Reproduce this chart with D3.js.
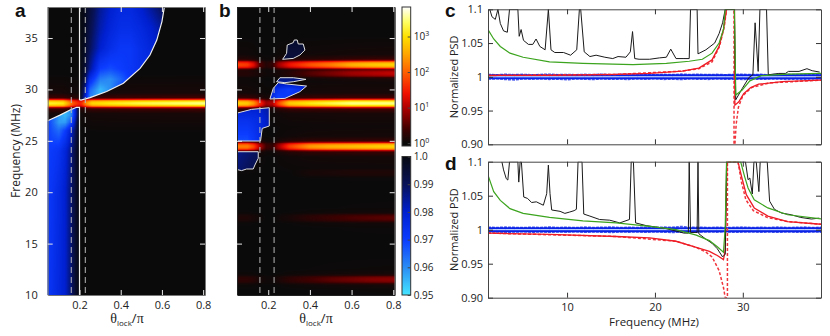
<!DOCTYPE html>
<html>
<head>
<meta charset="utf-8">
<style>
body { margin: 0; background: #fff; }
svg { display: block; }
text { font-family: "Open Sans", sans-serif; fill: #222; }
.panel { font-family: "Liberation Sans", sans-serif; font-weight: bold; font-size: 19px; fill: #111; }
</style>
</head>
<body>
<svg id="chart" width="830" height="336"></svg>
<script src="https://cdn.jsdelivr.net/npm/d3@7"></script>
<script>
// colour maps, log10(PSD) for the hot one and PSD for the blue one
const hotStops = [0, 0.4, 1, 1.4, 2, 2.5, 3, 3.4, 3.83];
const hotColors = ["#0a0a0a", "#3f0000", "#b00000", "#f01000", "#ff6000", "#ffa500", "#ffe000", "#ffff60", "#ffffff"];
const blueStops = [0.95, 0.96, 0.97, 0.98, 0.99, 1.0];
const blueColors = ["#45e5ff", "#2a8cf5", "#0c3cff", "#0020d0", "#081258", "#070910"];

// line shape of a resonance: frequency offset (MHz) -> fraction of the peak
const bandOffset = [0, 0.1, 0.2, 0.3, 0.4, 0.55, 1, 3];
const bandShape = [1, 0.97, 0.88, 0.7, 0.35, 0.12, 0.03, 0];

// panel a, resonances
const aThetas = [0.05, 0.12, 0.15, 0.17, 0.19, 0.2, 0.21, 0.23, 0.26, 0.35, 0.5, 0.8];
const aBandFreqs = [28.65];
const aBandPeaks = [[3.2, 3.1, 2.4, 1.9, 1.6, 1.5, 1.6, 2.3, 2.9, 3.1, 3.3, 3.5]];

// panel a, regions below 1
const aUpperTheta = [0.2, 0.207, 0.251, 0.332, 0.413, 0.494, 0.542, 0.575, 0.6, 0.612, 0.615, 0.2];
const aUpperFreq = [29, 28.97, 29.2, 29.8, 30.6, 32.05, 33.35, 34.8, 36.6, 38.04, 38.3, 38.3];
const aLowerTheta = [0.04, 0.046, 0.105, 0.154, 0.186, 0.2, 0.2, 0.04];
const aLowerFreq = [26.9, 26.95, 27.5, 28, 28.26, 28.26, 9.8, 9.8];

const aUpperGridTheta = [0.2, 0.22, 0.25, 0.3, 0.35, 0.4, 0.45, 0.5, 0.55, 0.6, 0.62];
const aUpperGridFreq = [29, 30, 31, 32, 34, 36, 38];
const aUpperGrid = [
  [1, 0.985, 0.96, 0.955, 0.965, 0.97, 0.97, 0.97, 0.97, 0.97, 0.97],
  [1, 0.99, 0.965, 0.955, 0.96, 0.97, 0.975, 0.975, 0.975, 0.975, 0.975],
  [1, 0.995, 0.975, 0.962, 0.96, 0.965, 0.972, 0.975, 0.975, 0.975, 0.975],
  [1, 0.997, 0.985, 0.97, 0.968, 0.97, 0.972, 0.975, 0.975, 0.975, 0.975],
  [1, 0.998, 0.99, 0.98, 0.975, 0.972, 0.972, 0.975, 0.978, 0.98, 0.98],
  [1, 0.999, 0.992, 0.983, 0.978, 0.975, 0.975, 0.977, 0.98, 0.985, 0.985],
  [1, 0.999, 0.994, 0.985, 0.98, 0.977, 0.977, 0.98, 0.985, 0.99, 0.992]
];
const aLowerGridTheta = [0.046, 0.07, 0.1, 0.13, 0.16, 0.18, 0.19, 0.2];
const aLowerGridFreq = [10, 20, 24, 26, 26.8, 27.5, 28.3];
const aLowerGrid = [
  [0.972, 0.974, 0.977, 0.98, 0.988, 0.996, 0.998, 1],
  [0.971, 0.973, 0.976, 0.98, 0.988, 0.995, 0.998, 1],
  [0.97, 0.971, 0.973, 0.978, 0.986, 0.994, 0.998, 1],
  [0.97, 0.967, 0.964, 0.97, 0.98, 0.99, 0.996, 1],
  [0.97, 0.965, 0.958, 0.958, 0.968, 0.985, 0.995, 1],
  [0.97, 0.965, 0.958, 0.955, 0.96, 0.98, 0.99, 1],
  [0.97, 0.965, 0.958, 0.955, 0.96, 0.98, 0.99, 1]
];

// panel b, resonances
const bThetas = [0.05, 0.1, 0.13, 0.16, 0.19, 0.22, 0.25, 0.3, 0.4, 0.5, 0.6, 0.7, 0.8];
const bBandFreqs = [32.4, 31.57, 28.65, 24.45, 21.9, 17.5, 11.5];
const bBandPeaks = [
  [1.8, 1.7, 1.3, 0.5, 0.2, 0.3, 0.9, 1.4, 1.9, 2.2, 2.6, 2.8, 2.9],
  [0.2, 0.2, 0.15, 0.1, 0.05, 0.05, 0.1, 0.2, 0.5, 0.7, 0.9, 1, 1.1],
  [2.9, 2.8, 2.4, 1.6, 0.9, 1, 1.8, 2.8, 3.1, 3.3, 3.5, 3.5, 3.5],
  [2.2, 2.2, 1.8, 1, 0.4, 0.3, 0.9, 1.7, 2.4, 2.6, 2.7, 2.8, 2.9],
  [0, 0, 0, 0, 0, 0, 0, 0, 0.1, 0.12, 0.15, 0.15, 0.15],
  [0.15, 0.15, 0.1, 0.05, 0, 0, 0.05, 0.1, 0.25, 0.35, 0.45, 0.5, 0.55],
  [0.25, 0.25, 0.2, 0.1, 0.05, 0.05, 0.12, 0.25, 0.4, 0.55, 0.65, 0.75, 0.8]
];

// panel b, contours of the regions below 1
const bRegionThetas = [
  [0.269, 0.288, 0.291, 0.32, 0.325, 0.339, 0.344, 0.368, 0.376, 0.352, 0.32],
  [0.24, 0.256, 0.32, 0.381, 0.32, 0.28],
  [0.208, 0.224, 0.248, 0.288, 0.384, 0.352, 0.28],
  [0.045, 0.12, 0.205, 0.205, 0.171, 0.163, 0.045],
  [0.045, 0.152, 0.152, 0.136, 0.128, 0.096, 0.072, 0.045]
];
const bRegionFreqs = [
  [32.93, 33.51, 34.32, 34.55, 34.81, 34.81, 34.42, 34.42, 33.83, 33.35, 33.02],
  [30.75, 31.14, 31.14, 30.98, 30.75, 30.66],
  [29.07, 30.1, 30.66, 30.53, 30.33, 29.78, 29.13],
  [27.67, 28.06, 28.22, 26.44, 26.21, 24.98, 24.98],
  [23.94, 23.94, 23.3, 22.65, 22.26, 22.26, 22.1, 22.23]
];
const bGridTheta = [0.05, 0.1, 0.15, 0.2, 0.25, 0.3, 0.35, 0.4];
const bGridFreq = [22, 24, 25, 27, 28.2, 29, 30, 30.7, 31.2, 33, 35];
const bGrid = [
  [0.988, 0.99, 0.992, 0.995, 1, 1, 1, 1],
  [0.986, 0.988, 0.99, 0.995, 1, 1, 1, 1],
  [0.968, 0.968, 0.974, 0.982, 1, 1, 1, 1],
  [0.974, 0.974, 0.976, 0.982, 1, 1, 1, 1],
  [0.98, 0.98, 0.98, 0.984, 0.98, 0.98, 0.98, 0.98],
  [0.98, 0.98, 0.98, 0.98, 0.968, 0.972, 0.976, 0.98],
  [0.98, 0.98, 0.98, 0.98, 0.974, 0.97, 0.974, 0.98],
  [0.98, 0.98, 0.98, 0.98, 0.985, 0.985, 0.985, 0.985],
  [0.99, 0.99, 0.99, 0.99, 0.988, 0.988, 0.988, 0.988],
  [0.996, 0.996, 0.996, 0.996, 0.994, 0.994, 0.994, 0.994],
  [0.996, 0.996, 0.996, 0.996, 0.996, 0.996, 0.996, 0.996]
];

const lockThetas = [0.16, 0.228];

// panel c traces
const cBlackFreq = [1.2, 1.45, 1.83, 2.13, 2.4, 2.77, 3.2, 3.45, 4.4, 4.55, 4.77, 5.04, 5.6, 6.1, 6.47, 6.9, 7.5, 7.87, 8.17, 8.6, 9.6, 10.4, 11.1, 11.4, 11.55, 11.95, 12.6, 13.3, 14.3, 15.2, 15.8, 16.7, 17.2, 17.45, 17.7, 18.2, 19.4, 20.5, 21.3, 21.8, 22.4, 23.2, 23.9, 24.05, 24.8, 24.9, 25.8, 26.8, 27.3, 27.7, 28, 29.04, 29.2, 29.95, 30.7, 31.15, 31.4, 31.75, 31.95, 32.7, 32.9, 34.1, 34.85, 35.2, 36.4, 37.3, 37.9, 38.75];
const cBlackPsd = [1.1, 1.089, 1.085, 1.1, 1.079, 1.068, 1.066, 1.1, 1.1, 1.06, 1.07, 1.054, 1.048, 1.048, 1.056, 1.045, 1.04, 1.1, 1.04, 1.036, 1.036, 1.032, 1.04, 1.1, 1.1, 1.037, 1.03, 1.032, 1.029, 1.027, 1.03, 1.029, 1.037, 1.067, 1.027, 1.026, 1.026, 1.028, 1.029, 1.041, 1.027, 1.027, 1.027, 1.1, 1.1, 1.034, 1.04, 1.05, 1.064, 1.08, 1.1, 1.1, 0.966, 0.983, 0.999, 1.003, 1.08, 1.008, 1.1, 1.1, 1.003, 1.005, 1.005, 1.008, 1.008, 1.012, 1.009, 1.007];
const cGreenFreq = [1, 1.65, 2.4, 3.5, 5, 8, 11.8, 17.5, 21.3, 23.9, 25.4, 26.5, 27.3, 27.8, 28, 29.05, 29.2, 29.9, 30.8, 32.1, 35.1, 38.9];
const cGreenPsd = [1.07, 1.056, 1.045, 1.035, 1.029, 1.022, 1.02, 1.018, 1.02, 1.023, 1.026, 1.035, 1.05, 1.07, 1.1, 1.1, 0.973, 0.98, 0.994, 1.0017, 1.004, 1.005];
const cRedFreq = [1, 8, 15.6, 19.4, 23.1, 25, 26.5, 27.3, 27.8, 28.15, 29.05, 29.1, 29.55, 30.1, 30.9, 31.8, 34.5, 38.9];
const cRedPsd = [1.002, 1.002, 1.0035, 1.005, 1.0085, 1.013, 1.025, 1.045, 1.07, 1.1, 1.1, 0.958, 0.963, 0.975, 0.984, 0.989, 0.993, 0.995];
const cDashFreq = [1, 15.6, 23.1, 25, 26.5, 27.35, 27.9, 28.15, 29, 29, 29.1, 29.25, 29.5, 30, 31, 33, 38.9];
const cDashPsd = [1.002, 1.0035, 1.0085, 1.012, 1.022, 1.045, 1.075, 1.1, 1.1, 0.9, 0.9, 0.93, 0.955, 0.972, 0.984, 0.991, 0.995];

// panel d traces
const dBlackFreq = [2.58, 2.77, 3.08, 3.26, 3.45, 4.4, 4.5, 4.66, 4.8, 5.07, 5.5, 5.96, 6.5, 7.3, 7.68, 7.87, 8.06, 8.25, 9.2, 9.75, 10.3, 10.8, 11.06, 11.25, 11.7, 11.9, 12.6, 13.7, 14.85, 16, 17.1, 17.3, 17.55, 17.8, 19, 20.1, 21.3, 22.4, 23.3, 23.8, 23.9, 24.05, 24.8, 24.9, 25, 25.8, 26.5, 27.1, 27.7, 28, 28.15, 30.3, 30.6, 30.8, 31.08, 31.27, 31.53, 31.83, 31.98, 32.78, 33.05, 33.6, 34.4, 35.5, 36.6, 37.8, 38.7];
const dBlackPsd = [1.1, 1.088, 1.075, 1.073, 1.1, 1.1, 1.07, 1.1, 1.1, 1.048, 1.046, 1.04, 1.041, 1.036, 1.053, 1.095, 1.053, 1.029, 1.027, 1.024, 1.026, 1.028, 1.03, 1.1, 1.1, 1.023, 1.02, 1.015, 1.014, 1.01, 1.015, 1.1, 1.1, 1.01, 1.006, 1.004, 1.0015, 0.998, 0.995, 0.995, 1.1, 0.996, 0.996, 1.1, 0.994, 0.986, 0.98, 0.972, 0.96, 0.964, 1.1, 1.1, 1.0735, 1.076, 1.0525, 1.1, 1.1, 1.056, 1.1, 1.1, 1.042, 1.03, 1.0245, 1.022, 1.018, 1.0157, 1.017];
const dGreenFreq = [1, 1.65, 2.4, 3.5, 5, 8, 11.8, 15.6, 19.4, 22.4, 24.7, 26.2, 27.1, 27.8, 28, 28.15, 29.75, 30.2, 30.6, 31.3, 32.85, 35.1, 38.9];
const dGreenPsd = [1.08, 1.056, 1.043, 1.031, 1.024, 1.018, 1.013, 1.01, 1.005, 1, 0.992, 0.984, 0.975, 0.967, 1.004, 1.1, 1.1, 1.0785, 1.0613, 1.044, 1.032, 1.022, 1.016];
const dRedFreq = [1, 8, 15.6, 19.4, 22.4, 24.7, 26.2, 27.1, 27.8, 28, 28.2, 29.45, 29.9, 30.4, 31.3, 32.85, 35.1, 38.9];
const dRedPsd = [0.995, 0.993, 0.99, 0.988, 0.983, 0.974, 0.968, 0.962, 0.956, 0.97, 1.1, 1.1, 1.076, 1.0515, 1.032, 1.02, 1.012, 1.008];
const dDashFreq = [1, 15.6, 22.4, 24.7, 25.8, 26.5, 27.3, 27.8, 28, 28.25, 28.25, 29.45, 29.85, 30.35, 31.2, 32.8, 35.1, 38.9];
const dDashPsd = [0.995, 0.99, 0.983, 0.974, 0.967, 0.96, 0.94, 0.915, 0.9, 0.9, 1.1, 1.1, 1.07, 1.044, 1.028, 1.018, 1.012, 1.008];

// reference traces around 1, noisy
const refFreq = [1, 2, 3, 4, 5, 6, 7, 8, 9, 10, 11, 12, 13, 14, 15, 16, 17, 18, 19, 20, 21, 22, 23, 24, 25, 26, 27, 28, 29, 30, 31, 32, 33, 34, 35, 36, 37, 38, 38.9];
const cRefUp = [1.0032, 1.0028, 1.0035, 1.003, 1.0034, 1.0027, 1.0033, 1.0036, 1.003, 1.0033, 1.0028, 1.0034, 1.003, 1.0036, 1.0029, 1.0032, 1.0037, 1.003, 1.0033, 1.0029, 1.0035, 1.0031, 1.0038, 1.0032, 1.0036, 1.003, 1.0034, 1.0029, 1.0033, 1.0036, 1.003, 1.0034, 1.0028, 1.0032, 1.0036, 1.003, 1.0033, 1.0029, 1.0032];
const cRefLow = [0.9968, 0.9972, 0.9962, 0.9955, 0.997, 0.9966, 0.9972, 0.9964, 0.9968, 0.9958, 0.997, 0.9966, 0.9962, 0.997, 0.9965, 0.9968, 0.9963, 0.997, 0.9966, 0.9972, 0.9964, 0.9968, 0.9962, 0.997, 0.9966, 0.9964, 0.997, 0.9966, 0.9968, 0.9962, 0.997, 0.9965, 0.9968, 0.9972, 0.9963, 0.9968, 0.9965, 0.997, 0.9967];
const dRefUp = [1.0034, 1.003, 1.0036, 1.0032, 1.0029, 1.0035, 1.0031, 1.0037, 1.003, 1.0034, 1.0029, 1.0036, 1.0031, 1.0033, 1.0038, 1.003, 1.0034, 1.0031, 1.0035, 1.003, 1.0036, 1.0034, 1.0046, 1.0032, 1.0035, 1.003, 1.0034, 1.0029, 1.0033, 1.0036, 1.003, 1.0034, 1.0031, 1.0036, 1.003, 1.0033, 1.0036, 1.003, 1.0034];
const dRefLow = [0.9966, 0.997, 0.9964, 0.9968, 0.9972, 0.9965, 0.9969, 0.9963, 0.997, 0.9966, 0.9972, 0.9964, 0.9968, 0.9966, 0.9962, 0.997, 0.9966, 0.9969, 0.9964, 0.997, 0.9966, 0.9962, 0.9965, 0.9968, 0.9964, 0.997, 0.9966, 0.9972, 0.9963, 0.9968, 0.997, 0.9964, 0.9968, 0.9963, 0.9969, 0.9966, 0.9964, 0.997, 0.9966];

// axis ticks and labels
const thetaTicks = [0.2, 0.4, 0.6, 0.8];
const thetaLabels = ["0.2", "0.4", "0.6", "0.8"];
const freqTicks = [10, 15, 20, 25, 30, 35];
const freqLabels = ["10", "15", "20", "25", "30", "35"];
const psdTicks = [0.9, 0.95, 1, 1.05, 1.1];
const psdLabels = ["0.90", "0.95", "1", "1.05", "1.1"];
const lineFreqTicks = [10, 20, 30];
const hotBarTicks = [0, 1, 2, 3];
const blueBarTicks = [1, 0.99, 0.98, 0.97, 0.96, 0.95];
const blueBarLabels = ["1.0", "0.99", "0.98", "0.97", "0.96", "0.95"];

const svg = d3.select("#chart");
const defs = svg.append("defs");

const hotColor = d3.scaleLinear().domain(hotStops).range(hotColors).clamp(true);
const blueColor = d3.scaleLinear().domain(blueStops).range(blueColors).clamp(true);

// bilinear lookup in a value grid
function gridField(xs, ys, m) {
  const xi = d3.scaleLinear().domain(xs).range(d3.range(xs.length)).clamp(true);
  const yi = d3.scaleLinear().domain(ys).range(d3.range(ys.length)).clamp(true);
  return (x, y) => {
    const u = xi(x), v = yi(y);
    const i = Math.min(Math.floor(u), xs.length - 2), j = Math.min(Math.floor(v), ys.length - 2);
    const a = u - i, b = v - j;
    return (1 - b) * ((1 - a) * m[j][i] + a * m[j][i + 1]) + b * ((1 - a) * m[j + 1][i] + a * m[j + 1][i + 1]);
  };
}

// resonance lines: peak read at each theta, common line shape
function bandField(thetas, freqs, peaks) {
  const peakAt = peaks.map(p => d3.scaleLinear().domain(thetas).range(p).clamp(true));
  const shape = d3.scaleLinear().domain(bandOffset).range(bandShape).clamp(true);
  return (t, f) => d3.max(freqs, (f0, i) => peakAt[i](t) * shape(Math.abs(f - f0)));
}

// paint a field into the plot rectangle as an svg image
function heatImage(g, x, y, field, color, clipId) {
  const [x0, x1] = x.range(), [y1, y0] = y.range();
  const w = Math.round(x1 - x0), h = Math.round(y1 - y0);
  const canvas = document.createElement("canvas");
  canvas.width = w;
  canvas.height = h;
  const ctx = canvas.getContext("2d");
  const img = ctx.createImageData(w, h);
  for (let j = 0; j < h; j++) {
    const f = y.invert(y0 + j + 0.5);
    for (let i = 0; i < w; i++) {
      const c = d3.rgb(color(field(x.invert(x0 + i + 0.5), f)));
      const k = (j * w + i) * 4;
      img.data[k] = c.r;
      img.data[k + 1] = c.g;
      img.data[k + 2] = c.b;
      img.data[k + 3] = 255;
    }
  }
  ctx.putImageData(img, 0, 0);
  const im = g.append("image")
    .attr("x", x0).attr("y", y0).attr("width", x1 - x0).attr("height", y1 - y0)
    .attr("preserveAspectRatio", "none")
    .attr("href", canvas.toDataURL());
  if (clipId) im.attr("clip-path", `url(#${clipId})`);
}

function clipRect(id, x, y) {
  defs.append("clipPath").attr("id", id).append("rect")
    .attr("x", x.range()[0]).attr("y", y.range()[1])
    .attr("width", x.range()[1] - x.range()[0]).attr("height", y.range()[0] - y.range()[1]);
}

function styleAxis(sel, color, noLabels) {
  sel.selectAll("path").attr("stroke", color).attr("stroke-width", 1);
  sel.selectAll("line").attr("stroke", color).attr("stroke-width", 1);
  sel.selectAll("text").style("font-size", "11px").style("font-family", '"Open Sans", sans-serif').attr("fill", "#222");
  if (noLabels) sel.selectAll("text").remove();
}

function frameAxes(x, y, xTicks, xLabels, yTicks, yLabels, tickColor, frameColor, yPad) {
  const [x0, x1] = x.range(), [yb, yt] = y.range();
  const fmt = (ticks, labels) => labels ? (d => labels[ticks.indexOf(d)]) : (d => d);
  [
    [d3.axisLeft(y).tickValues(yTicks).tickFormat(fmt(yTicks, yLabels)), x0, 0, !yLabels, yPad],
    [d3.axisRight(y).tickValues(yTicks), x1, 0, true, 5],
    [d3.axisBottom(x).tickValues(xTicks).tickFormat(fmt(xTicks, xLabels)), 0, yb, !xLabels, 6],
    [d3.axisTop(x).tickValues(xTicks), 0, yt, true, 5]
  ].forEach(([axis, tx, ty, noLabels, pad]) => {
    const a = svg.append("g").attr("transform", `translate(${tx},${ty})`)
      .call(axis.tickSizeInner(-5).tickSizeOuter(0).tickPadding(pad));
    styleAxis(a, frameColor, noLabels);
    a.selectAll(".tick line").attr("stroke", tickColor);
  });
}

function thetaTitle(cx) {
  const t = svg.append("text").attr("x", cx).attr("y", 323).attr("text-anchor", "middle").style("font-size", "12px");
  t.append("tspan").style("font-family", '"Liberation Serif", serif').style("font-size", "14px").text("θ");
  t.append("tspan").attr("dy", 3).style("font-size", "8px").text("lock");
  t.append("tspan").attr("dy", -3).style("font-size", "13px").text("/");
  t.append("tspan").style("font-family", '"Liberation Serif", serif').style("font-size", "14px").text("π");
}

// panel a
const ya = d3.scaleLinear().domain([10, 38.02]).range([295, 7]);
const xa = d3.scaleLinear().domain([0.0456, 0.809]).range([47.7, 205]);
const ga = svg.append("g");
clipRect("clip-a", xa, ya);
heatImage(ga, xa, ya, bandField(aThetas, aBandFreqs, aBandPeaks), hotColor);

const contour = (x, y) => d3.line().x(d => x(d[0])).y(d => y(d[1]));
const aUpperPts = d3.zip(aUpperTheta, aUpperFreq);
const aLowerPts = d3.zip(aLowerTheta, aLowerFreq);
defs.append("clipPath").attr("id", "a-up").append("path").attr("d", contour(xa, ya)(aUpperPts) + "Z");
defs.append("clipPath").attr("id", "a-low").append("path").attr("d", contour(xa, ya)(aLowerPts) + "Z");
heatImage(ga, xa, ya, gridField(aUpperGridTheta, aUpperGridFreq, aUpperGrid), blueColor, "a-up");
heatImage(ga, xa, ya, gridField(aLowerGridTheta, aLowerGridFreq, aLowerGrid), blueColor, "a-low");

const gaLines = svg.append("g").attr("clip-path", "url(#clip-a)");
[aUpperPts, aLowerPts].forEach(pts => {
  gaLines.append("path").attr("d", contour(xa, ya)(pts) + "Z")
    .attr("fill", "none").attr("stroke", "#f0f0f0").attr("stroke-width", 1.2);
});
gaLines.selectAll("line").data(lockThetas).join("line")
  .attr("x1", d => xa(d)).attr("x2", d => xa(d)).attr("y1", 7).attr("y2", 295)
  .attr("stroke", "#b8b8b8").attr("stroke-width", 1).attr("stroke-dasharray", "6,4");
frameAxes(xa, ya, thetaTicks, thetaLabels, freqTicks, freqLabels, "#e8e8e8", "#777", 10);

// panel b
const yb = d3.scaleLinear().domain([10, 38.02]).range([295, 7]);
const xb = d3.scaleLinear().domain([0.05, 0.807]).range([237, 394.7]);
const gb = svg.append("g");
clipRect("clip-b", xb, yb);
heatImage(gb, xb, yb, bandField(bThetas, bBandFreqs, bBandPeaks), hotColor);
const bPaths = bRegionThetas.map((ts, i) => contour(xb, yb)(d3.zip(ts, bRegionFreqs[i])) + "Z");
defs.append("clipPath").attr("id", "b-regions").selectAll("path").data(bPaths).join("path").attr("d", d => d);
heatImage(gb, xb, yb, gridField(bGridTheta, bGridFreq, bGrid), blueColor, "b-regions");
const gbLines = svg.append("g").attr("clip-path", "url(#clip-b)");
gbLines.selectAll("path").data(bPaths).join("path").attr("d", d => d)
  .attr("fill", "none").attr("stroke", "#e0e0e0").attr("stroke-width", 1);
gbLines.selectAll("line").data(lockThetas).join("line")
  .attr("x1", d => xb(d)).attr("x2", d => xb(d)).attr("y1", 7).attr("y2", 295)
  .attr("stroke", "#b8b8b8").attr("stroke-width", 1).attr("stroke-dasharray", "6,4");
frameAxes(xb, yb, thetaTicks, thetaLabels, freqTicks, null, "#e8e8e8", "#222", 5);

thetaTitle(127);
thetaTitle(316);
svg.append("text").attr("transform", "translate(20,151) rotate(-90)").attr("text-anchor", "middle")
  .style("font-size", "12px").text("Frequency (MHz)");

// colour bars
function colorBar(id, scale, stops, colors) {
  const grad = defs.append("linearGradient").attr("id", id)
    .attr("gradientUnits", "userSpaceOnUse").attr("x1", 0).attr("x2", 0)
    .attr("y1", scale.range()[0]).attr("y2", scale.range()[1]);
  const [d0, d1] = scale.domain();
  grad.selectAll("stop").data(stops).join("stop")
    .attr("offset", d => (d - d0) / (d1 - d0))
    .attr("stop-color", (d, i) => colors[i]);
  svg.append("rect").attr("x", 402).attr("width", 8.7)
    .attr("y", scale.range()[1]).attr("height", scale.range()[0] - scale.range()[1])
    .attr("fill", `url(#${id})`).attr("stroke", "#333").attr("stroke-width", 1);
}
const yHot = d3.scaleLinear().domain([-0.08, 3.83]).range([146, 7]);
const yBlue = d3.scaleLinear().domain([0.95, 1]).range([295, 156.5]);
colorBar("hot-grad", yHot, hotStops, hotColors);
colorBar("blue-grad", yBlue, blueStops, blueColors);

const hotAxis = svg.append("g").attr("transform", "translate(410.7,0)")
  .call(d3.axisRight(yHot).tickValues(hotBarTicks).tickSizeInner(-3).tickSizeOuter(0).tickPadding(3));
hotAxis.select("path").remove();
hotAxis.selectAll("line").attr("stroke", "#444");
hotAxis.selectAll("text").text(null).style("font-size", "10px").style("font-family", '"Open Sans", sans-serif').attr("fill", "#222")
  .each(function(d) {
    const t = d3.select(this);
    t.append("tspan").text("10");
    t.append("tspan").attr("dy", -4).style("font-size", "7px").text(d);
  });

const blueAxis = svg.append("g").attr("transform", "translate(410.7,0)")
  .call(d3.axisRight(yBlue).tickValues(blueBarTicks).tickFormat(d => blueBarLabels[blueBarTicks.indexOf(d)])
    .tickSizeInner(-3).tickSizeOuter(0).tickPadding(3));
blueAxis.select("path").remove();
blueAxis.selectAll("line").attr("stroke", "#444");
blueAxis.selectAll("text").style("font-size", "10px").style("font-family", '"Open Sans", sans-serif').attr("fill", "#222");

// panels c and d
const xLine = d3.scaleLinear().domain([1, 38.9]).range([488, 821]);

function tracePanel(id, y, tr) {
  clipRect(id, xLine, y);
  const g = svg.append("g").attr("clip-path", `url(#${id})`);
  const line = d3.line().x(d => xLine(d[0])).y(d => y(d[1]));
  const draw = (fs, vs, color, width, dash) => g.append("path")
    .attr("d", line(d3.zip(fs, vs)))
    .attr("fill", "none").attr("stroke", color).attr("stroke-width", width)
    .attr("stroke-dasharray", dash || null);
  draw(refFreq, tr.refUp, "#4a5aec", 1.8, "3,1");
  draw(refFreq, tr.refLow, "#4a5aec", 1.8, "3,1");
  draw(refFreq, refFreq.map(() => 1.002), "#0a22e6", 2.4);
  draw(refFreq, refFreq.map(() => 0.998), "#0a22e6", 2.4);
  draw(refFreq, refFreq.map(() => 1), "#cfe6ff", 1);
  draw(tr.dashF, tr.dashV, "#f0343c", 1.5, "3,2");
  draw(tr.redF, tr.redV, "#ee1c25", 1.3);
  draw(tr.blackF, tr.blackV, "#1a1a1a", 1);
  draw(tr.greenF, tr.greenV, "#3ca41e", 1.2);
  frameAxes(xLine, y, lineFreqTicks, tr.xLabels, psdTicks, psdLabels, "#333", "#444", 5);
  svg.append("text").attr("transform", `translate(458,${(y.range()[0] + y.range()[1]) / 2}) rotate(-90)`)
    .attr("text-anchor", "middle").style("font-size", "11px").text("Normalized PSD");
}

const yc = d3.scaleLinear().domain([0.9, 1.1]).range([144.3, 9.3]);
const yd = d3.scaleLinear().domain([0.9, 1.1]).range([297.7, 161.7]);
tracePanel("clip-c", yc, {
  refUp: cRefUp, refLow: cRefLow, dashF: cDashFreq, dashV: cDashPsd, redF: cRedFreq, redV: cRedPsd,
  blackF: cBlackFreq, blackV: cBlackPsd, greenF: cGreenFreq, greenV: cGreenPsd, xLabels: null
});
tracePanel("clip-d", yd, {
  refUp: dRefUp, refLow: dRefLow, dashF: dDashFreq, dashV: dDashPsd, redF: dRedFreq, redV: dRedPsd,
  blackF: dBlackFreq, blackV: dBlackPsd, greenF: dGreenFreq, greenV: dGreenPsd, xLabels: ["10", "20", "30"]
});
svg.append("text").attr("x", 654).attr("y", 326).attr("text-anchor", "middle")
  .style("font-size", "11.5px").text("Frequency (MHz)");

// panel letters
[["a", 15, 17], ["b", 219, 17], ["c", 445, 17], ["d", 445, 170]].forEach(([t, x, y]) => {
  svg.append("text").attr("class", "panel").attr("x", x).attr("y", y).text(t);
});
</script>
</body>
</html>
